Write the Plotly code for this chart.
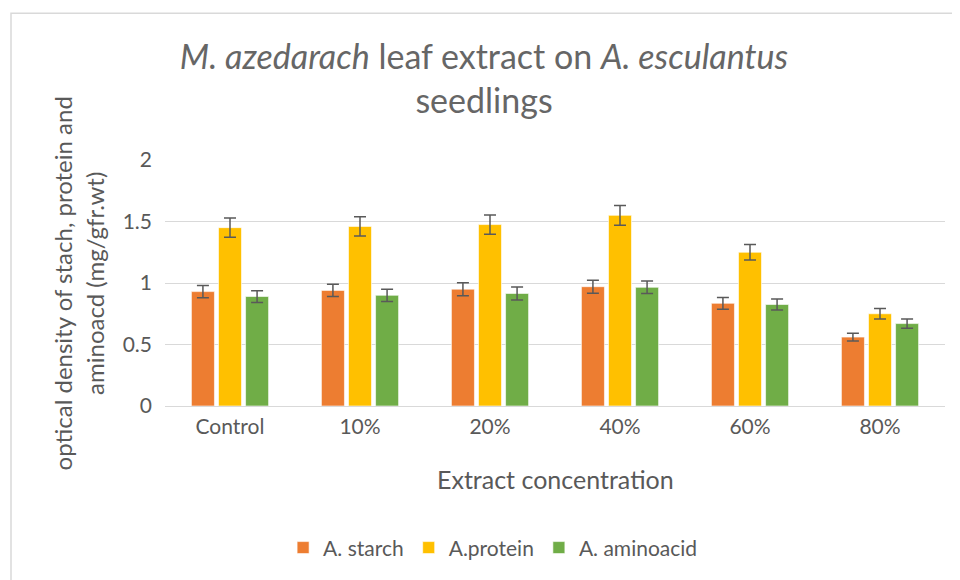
import plotly.graph_objects as go

categories = ["Control", "10%", "20%", "40%", "60%", "80%"]
starch = [0.93, 0.94, 0.95, 0.97, 0.835, 0.56]
starch_err = [0.05, 0.05, 0.053, 0.053, 0.048, 0.032]
protein = [1.45, 1.46, 1.475, 1.55, 1.25, 0.75]
protein_err = [0.078, 0.078, 0.078, 0.081, 0.064, 0.042]
amino = [0.89, 0.90, 0.915, 0.965, 0.825, 0.67]
amino_err = [0.048, 0.05, 0.053, 0.051, 0.045, 0.038]

series_names = ["A. starch", "A.protein", "A. aminoacid"]
colors = ["#ED7D31", "#FFC000", "#70AD47"]

FONT = "Lato"
GRAY = "#595959"

fig = go.Figure()
for name, vals, errs, col in zip(series_names, [starch, protein, amino],
                                  [starch_err, protein_err, amino_err], colors):
    fig.add_trace(go.Bar(
        x=categories, y=vals, name=name,
        marker=dict(color=col, line=dict(color="rgba(255,255,255,0.6)", width=1)),
        error_y=dict(type="data", array=errs, visible=True,
                     color=GRAY, thickness=1.5, width=6),
    ))

# page body has an 8px margin, so the figure is 8px smaller and offset
fig.update_layout(
    width=952, height=572,
    margin=dict(l=157, r=15, t=152, b=170),
    paper_bgcolor="white", plot_bgcolor="white",
    barmode="group", bargap=0.375, bargroupgap=0.15,
    font=dict(family=FONT, color=GRAY, size=21),
    title=dict(
        text="<i>M. azedarach</i> leaf extract on <i>A. esculantus</i><br>seedlings",
        x=0.5, xanchor="center", xref="container", y=0.893, yanchor="middle",
        font=dict(family=FONT, size=34, color="#666666"),
    ),
    xaxis=dict(showgrid=False, showline=False, ticks="",
               tickfont=dict(size=21, color=GRAY), ticklabelstandoff=6),
    yaxis=dict(range=[0, 2.0], tickvals=[0, 0.5, 1, 1.5, 2],
               ticktext=["0", "0.5", "1", "1.5", "2"],
               showgrid=True, gridcolor="#D9D9D9", gridwidth=1.3,
               zeroline=True, zerolinecolor="#D9D9D9", zerolinewidth=1.3,
               showline=False, ticks="", ticklabelstandoff=12,
               tickfont=dict(size=21, color=GRAY)),
    legend=dict(orientation="h", x=0.42, xanchor="center", y=-0.577, yanchor="middle",
                font=dict(size=21, color=GRAY), itemwidth=30, traceorder="normal"),
    showlegend=True,
)

fig.add_annotation(text="Extract concentration", xref="paper", yref="paper",
                   x=0.5, y=-0.295, xanchor="center", yanchor="middle",
                   showarrow=False, font=dict(size=25, color=GRAY, family=FONT))
fig.add_annotation(text="optical density of stach, protein and<br>aminoacd (mg/gfr.wt)",
                   xref="paper", yref="paper", x=-0.111, y=0.5, textangle=-90,
                   xanchor="center", yanchor="middle", showarrow=False,
                   font=dict(size=24, color=GRAY, family=FONT))

# chart area border
fig.add_shape(type="rect", xref="paper", yref="paper",
              x0=(11 - 165) / 780, x1=(975 - 165) / 780,
              y0=(408 - 595) / 248, y1=(408 - 12) / 248,
              line=dict(color="#D9D9D9", width=1.5), fillcolor="rgba(0,0,0,0)", layer="below")

fig.write_html("out.html")
